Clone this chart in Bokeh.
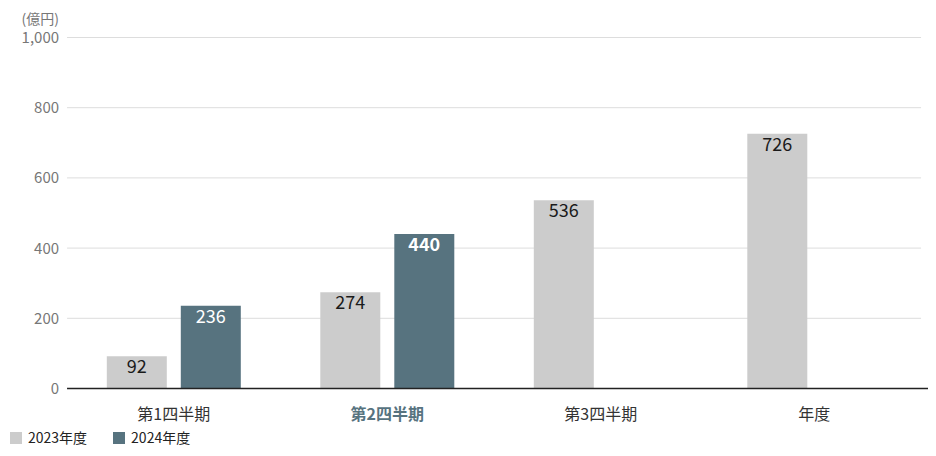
from bokeh.plotting import figure
from bokeh.models import (Range1d, ColumnDataSource, LabelSet, Legend, LegendItem)
from bokeh.core.properties import value
from bokeh.transform import dodge
from bokeh.embed import file_html
from bokeh.resources import INLINE

categories = ["第1四半期", "第2四半期", "第3四半期", "年度"]
values_2023 = [92, 274, 536, 726]
values_2024 = [236, 440, None, None]
series_names = ["2023年度", "2024年度"]
highlight = "第2四半期"
y_ticks = [0, 200, 400, 600, 800, 1000]
unit_label = "(億円)"

FONT = "Noto Sans CJK JP"
C23 = "#cccccc"
C24 = "#57737f"
TEXT = "#333333"
GRAY_TXT = "#777777"

# layout constants (pixels)
W, H = 928, 448
ZERO_PX, TOP_PX = 388, 37            # rows of value 0 and value 1000
X0_PX, STEP_PX = 173.3, 213.5        # centre of first category, category spacing
PX_PER_UNIT = (ZERO_PX - TOP_PX) / 1000.0
OFF = 37 / STEP_PX                   # bar offset from category centre
BW = 60 / STEP_PX                    # bar width

n = len(categories)
idx = list(range(n))
p = figure(x_range=Range1d(-X0_PX / STEP_PX, (W - X0_PX) / STEP_PX),
           y_range=Range1d(-(H - ZERO_PX) / PX_PER_UNIT, 1000 + TOP_PX / PX_PER_UNIT),
           width=W, height=H, output_backend="svg", toolbar_location=None,
           x_axis_location=None, y_axis_location=None,
           min_border_left=0, min_border_right=0, min_border_top=0, min_border_bottom=0)
p.outline_line_color = None
p.xgrid.grid_line_color = None
p.ygrid.grid_line_color = None

# horizontal grid lines + y tick labels
grid_src = ColumnDataSource(dict(y=y_ticks, t=[f"{v:,}" for v in y_ticks],
                                 x0=[-0.5] * len(y_ticks), x1=[n - 0.5] * len(y_ticks)))
p.segment(x0="x0", y0="y", x1="x1", y1="y", source=grid_src,
          line_color="#dddddd", line_width=1)
p.add_layout(LabelSet(x="x0", y="y", text="t", source=grid_src, x_offset=-8,
                      text_align="right", text_baseline="middle",
                      text_font=value(FONT), text_font_size="15px", text_color=GRAY_TXT))
unit_src = ColumnDataSource(dict(x=[-0.5], y=[(ZERO_PX - 17) / PX_PER_UNIT], t=[unit_label]))
p.add_layout(LabelSet(x="x", y="y", text="t", source=unit_src, x_offset=-8,
                      text_align="right", text_baseline="middle",
                      text_font=value(FONT), text_font_size="14px", text_color=GRAY_TXT))

# bars
src23 = ColumnDataSource(dict(i=idx, v=values_2023, t=[str(v) for v in values_2023]))
i24 = [i for i, v in zip(idx, values_2024) if v is not None]
v24 = [v for v in values_2024 if v is not None]
src24 = ColumnDataSource(dict(i=i24, v=v24, t=[str(v) for v in v24],
                              style=["bold" if categories[i] == highlight else "normal"
                                     for i in i24]))

r23 = p.vbar(x=dodge("i", -OFF), top="v", bottom=0, width=BW,
             source=src23, fill_color=C23, line_color=None)
r24 = p.vbar(x=dodge("i", OFF), top="v", bottom=0, width=BW,
             source=src24, fill_color=C24, line_color=None)

# zero baseline
p.segment(x0=[-0.5], y0=[0], x1=[n - 0.45], y1=[0], line_color="#222222", line_width=1.5)

# value labels
p.add_layout(LabelSet(x=dodge("i", -OFF), y="v", text="t", source=src23,
                      text_align="center", text_baseline="top", y_offset=-3,
                      text_font=value(FONT), text_font_size="18px", text_color="#1a1a1a"))
p.add_layout(LabelSet(x=dodge("i", OFF), y="v", text="t", source=src24,
                      text_align="center", text_baseline="top", y_offset=-3,
                      text_font=value(FONT), text_font_size="18px", text_color="white",
                      text_font_style="style"))

# category labels
cat_src = ColumnDataSource(dict(
    i=idx, y=[0] * n, t=categories,
    color=[C24 if c == highlight else TEXT for c in categories],
    style=["bold" if c == highlight else "normal" for c in categories]))
p.add_layout(LabelSet(x="i", y="y", text="t", source=cat_src, y_offset=-24,
                      text_align="center", text_baseline="middle",
                      text_font=value(FONT), text_font_size="16px", text_color="color",
                      text_font_style="style"))

# legend
legend = Legend(items=[LegendItem(label=series_names[0], renderers=[r23]),
                       LegendItem(label=series_names[1], renderers=[r24])],
                orientation="horizontal", location=(8, 1),
                glyph_width=15, glyph_height=15, label_standoff=5, spacing=24,
                padding=0, margin=0, border_line_color=None, background_fill_alpha=0,
                label_text_font=FONT, label_text_font_size="14px",
                label_text_color="#222222", label_height=15)
p.add_layout(legend, "center")

open("out.html", "w").write(file_html(p, INLINE))
